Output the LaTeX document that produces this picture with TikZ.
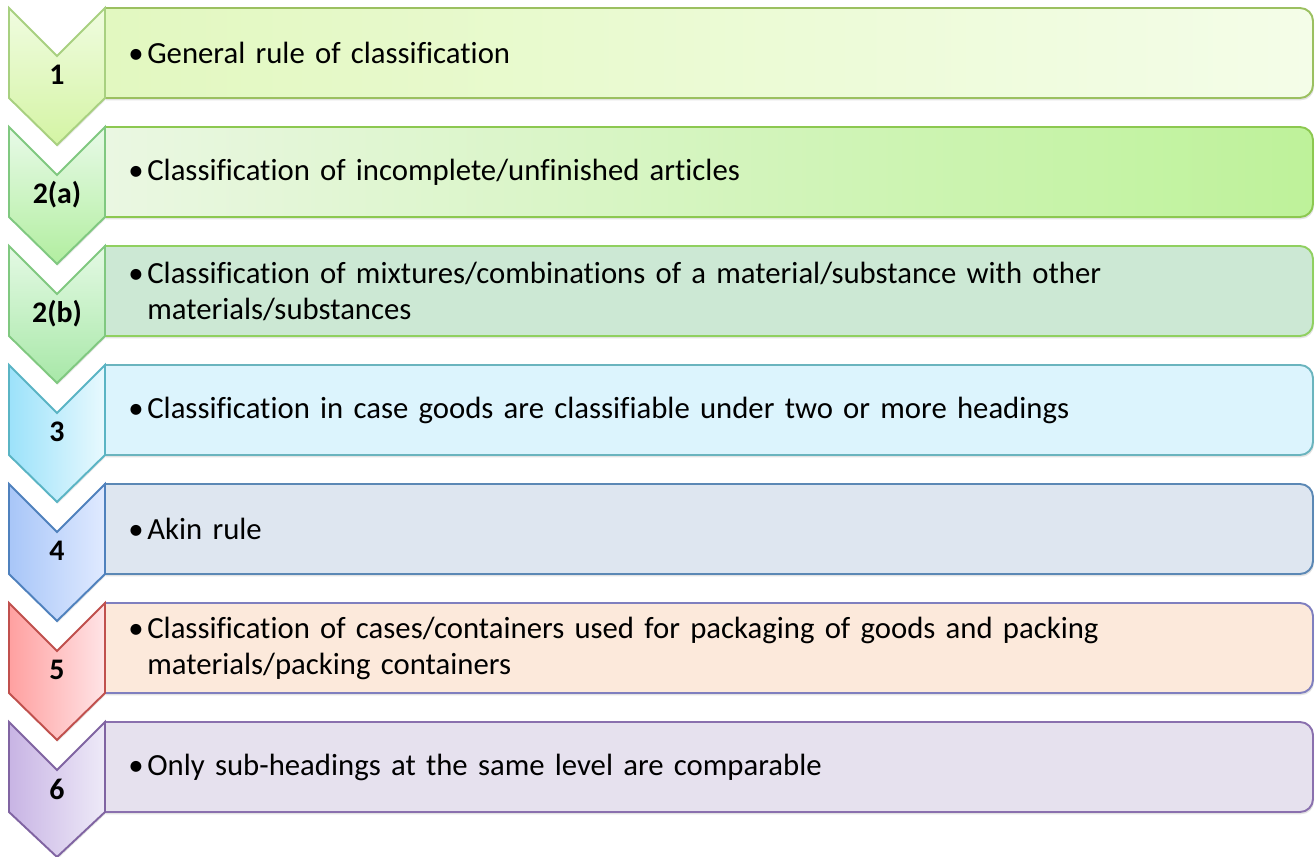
\documentclass[tikz,border=0pt]{standalone}
\usepackage{fontspec}
\setmainfont{Carlito}[Ligatures=NoCommon]
\usetikzlibrary{shadows}

% chevron and box colours
\definecolor{chevAline}{HTML}{A8D080}\definecolor{chevAtop}{HTML}{F0FCE0}\definecolor{chevAbot}{HTML}{D4F4A4}
\definecolor{boxAline}{HTML}{9BC060}\definecolor{boxAleft}{HTML}{E2F8C0}\definecolor{boxAright}{HTML}{F4FDE8}
\definecolor{chevBline}{HTML}{80C880}\definecolor{chevBtop}{HTML}{E8FAE8}\definecolor{chevBbot}{HTML}{B2EEA0}
\definecolor{boxBline}{HTML}{8CC850}\definecolor{boxBleft}{HTML}{EAF7E2}\definecolor{boxBright}{HTML}{BEF29A}
\definecolor{chevCline}{HTML}{80C880}\definecolor{chevCtop}{HTML}{E4F9E4}\definecolor{chevCbot}{HTML}{A8E8A8}
\definecolor{boxCline}{HTML}{90D060}\definecolor{boxCfill}{HTML}{CCE8D4}
\definecolor{chevDline}{HTML}{5AB4C4}\definecolor{chevDleft}{HTML}{9CE2FA}\definecolor{chevDright}{HTML}{E8F9FE}
\definecolor{boxDline}{HTML}{6AB4BE}\definecolor{boxDfill}{HTML}{DCF4FD}
\definecolor{chevEline}{HTML}{4F81BD}\definecolor{chevEleft}{HTML}{A8C6F8}\definecolor{chevEright}{HTML}{E0EAFF}
\definecolor{boxEline}{HTML}{5B88B5}\definecolor{boxEfill}{HTML}{DEE6F0}
\definecolor{chevFline}{HTML}{C0504D}\definecolor{chevFleft}{HTML}{FFA0A0}\definecolor{chevFright}{HTML}{FFE4E6}
\definecolor{boxFline}{HTML}{7F7FBF}\definecolor{boxFfill}{HTML}{FCE9DB}
\definecolor{chevGline}{HTML}{8064A2}\definecolor{chevGleft}{HTML}{C8B4E4}\definecolor{chevGright}{HTML}{EEEAF8}
\definecolor{boxGline}{HTML}{8A70AE}\definecolor{boxGfill}{HTML}{E6E1EE}

\tikzset{
	chevron/.style={line width=1.1pt, line join=miter, drop shadow={opacity=0.18, shadow xshift=0.5pt, shadow yshift=-1pt}},
	rulebox/.style={line width=1.1pt, drop shadow={opacity=0.22, shadow xshift=0.6pt, shadow yshift=-1.3pt}},
	rulenum/.style={anchor=base, inner sep=0pt, font=\fontsize{17}{20}\selectfont\bfseries},
	ruletext/.style={anchor=west, align=left, text width=23.5cm, inner sep=0pt, font=\fontsize{17.5}{20.5}\selectfont},
}
\newcommand{\bul}{\makebox[0.38cm][l]{\textbullet}}

\begin{document}
\begin{tikzpicture}[x=0.02cm, y=-0.02cm]
	\useasboundingbox (0,0) rectangle (1315,857);
	% Row 1:
	\draw[rulebox, draw=boxAline, left color=boxAleft, right color=boxAright] (105,98) -- (105,8) [rounded corners=0.26cm] -- (1313,8) -- (1313,98) [sharp corners] -- (105,98) -- cycle;
	\draw[chevron, draw=chevAline, top color=chevAtop, bottom color=chevAbot] (9,8) -- (57,56) -- (105,8) -- (105,98) -- (57,145) -- (9,98) -- cycle;
	\node[rulenum] (n1) at (57,85) {1};
	\node[ruletext] (t1) at (128,53) {\bul General rule of classification};
	% Row 2(a):
	\draw[rulebox, draw=boxBline, left color=boxBleft, right color=boxBright] (105,217) -- (105,127) [rounded corners=0.26cm] -- (1313,127) -- (1313,217) [sharp corners] -- (105,217) -- cycle;
	\draw[chevron, draw=chevBline, top color=chevBtop, bottom color=chevBbot] (9,127) -- (57,175) -- (105,127) -- (105,217) -- (57,264) -- (9,217) -- cycle;
	\node[rulenum] (n2a) at (57,204) {2(a)};
	\node[ruletext] (t2a) at (128,172) {\bul Classification of incomplete/unfinished articles};
	% Row 2(b):
	\draw[rulebox, draw=boxCline, fill=boxCfill] (105,336) -- (105,246) [rounded corners=0.26cm] -- (1313,246) -- (1313,336) [sharp corners] -- (105,336) -- cycle;
	\draw[chevron, draw=chevCline, top color=chevCtop, bottom color=chevCbot] (9,246) -- (57,294) -- (105,246) -- (105,336) -- (57,383) -- (9,336) -- cycle;
	\node[rulenum] (n2b) at (57,323) {2(b)};
	\node[ruletext] (t2b) at (128,291) {\bul Classification of mixtures/combinations of a material/substance with other\\\hspace*{0.38cm}materials/substances};
	% Row 3:
	\draw[rulebox, draw=boxDline, fill=boxDfill] (105,455) -- (105,365) [rounded corners=0.26cm] -- (1313,365) -- (1313,455) [sharp corners] -- (105,455) -- cycle;
	\draw[chevron, draw=chevDline, left color=chevDleft, right color=chevDright] (9,365) -- (57,413) -- (105,365) -- (105,455) -- (57,502) -- (9,455) -- cycle;
	\node[rulenum] (n3) at (57,442) {3};
	\node[ruletext] (t3) at (128,410) {\bul Classification in case goods are classifiable under two or more headings};
	% Row 4:
	\draw[rulebox, draw=boxEline, fill=boxEfill] (105,574) -- (105,484) [rounded corners=0.26cm] -- (1313,484) -- (1313,574) [sharp corners] -- (105,574) -- cycle;
	\draw[chevron, draw=chevEline, left color=chevEleft, right color=chevEright] (9,484) -- (57,532) -- (105,484) -- (105,574) -- (57,621) -- (9,574) -- cycle;
	\node[rulenum] (n4) at (57,561) {4};
	\node[ruletext] (t4) at (128,529) {\bul Akin rule};
	% Row 5:
	\draw[rulebox, draw=boxFline, fill=boxFfill] (105,693) -- (105,603) [rounded corners=0.26cm] -- (1313,603) -- (1313,693) [sharp corners] -- (105,693) -- cycle;
	\draw[chevron, draw=chevFline, left color=chevFleft, right color=chevFright] (9,603) -- (57,651) -- (105,603) -- (105,693) -- (57,740) -- (9,693) -- cycle;
	\node[rulenum] (n5) at (57,680) {5};
	\node[ruletext] (t5) at (128,648) {\bul Classification of cases/containers used for packaging of goods and packing\\\hspace*{0.38cm}materials/packing containers};
	% Row 6:
	\draw[rulebox, draw=boxGline, fill=boxGfill] (105,812) -- (105,722) [rounded corners=0.26cm] -- (1313,722) -- (1313,812) [sharp corners] -- (105,812) -- cycle;
	\draw[chevron, draw=chevGline, left color=chevGleft, right color=chevGright] (9,722) -- (57,770) -- (105,722) -- (105,812) -- (57,857) -- (9,812) -- cycle;
	\node[rulenum] (n6) at (57,799) {6};
	\node[ruletext] (t6) at (128,767) {\bul Only sub-headings at the same level are comparable};
\end{tikzpicture}
\end{document}
